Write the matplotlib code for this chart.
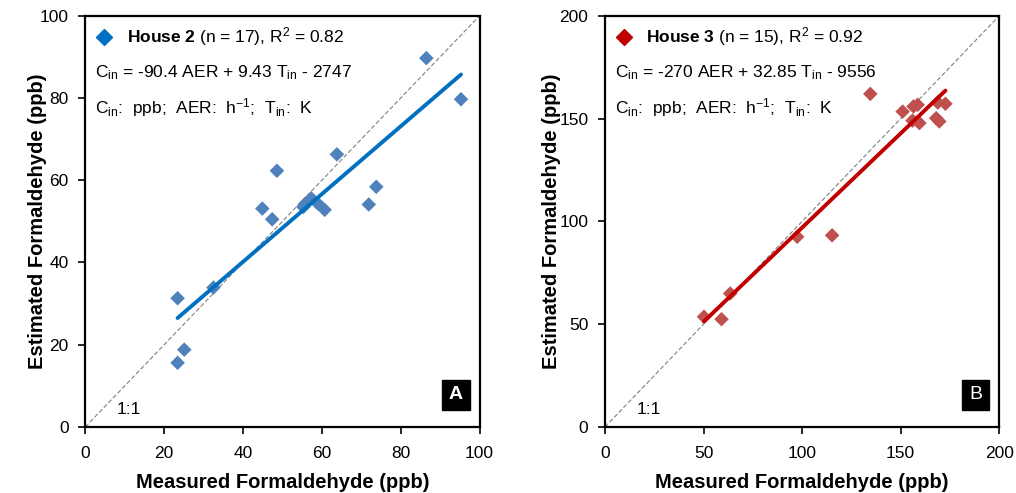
import numpy as np
import matplotlib
matplotlib.use("Agg")
import matplotlib.pyplot as plt
from matplotlib.lines import Line2D

plt.rcParams['font.family'] = ['Liberation Sans', 'DejaVu Sans']
plt.rcParams['mathtext.fontset'] = 'custom'
plt.rcParams['mathtext.rm'] = 'Liberation Sans'
plt.rcParams['mathtext.bf'] = 'Liberation Sans:bold'
plt.rcParams['mathtext.it'] = 'Liberation Sans:italic'

# House 2 (panel A)
h2_measured = [86.5, 95.3, 63.8, 48.6, 44.9, 47.4, 73.8, 71.9, 55.8, 57.3,
               58.9, 60.7, 55.3, 32.5, 23.4, 25.1, 23.4]
h2_estimated = [89.7, 79.7, 66.3, 62.3, 53.1, 50.5, 58.4, 54.1, 54.3, 55.6,
                54.4, 52.8, 53.5, 33.9, 31.3, 18.8, 15.6]

# House 3 (panel B)
h3_measured = [134.6, 151.0, 156.5, 158.6, 159.5, 168.8, 172.7, 168.0, 169.6,
               156.0, 97.5, 115.2, 63.5, 50.2, 59.1]
h3_estimated = [162.0, 153.4, 155.9, 156.7, 147.8, 157.8, 157.2, 150.2, 148.6,
                149.0, 92.5, 93.2, 64.9, 53.6, 52.4]

panels = [
    dict(x=h2_measured, y=h2_estimated, lim=100, ticks=[0, 20, 40, 60, 80, 100],
         pt='#4F81BD', line='#0070C0', mk='#0070C0',
         title=r"$\mathbf{House\ 2}$ (n = 17), R$^{2}$ = 0.82",
         eq=r"C$_{\mathrm{in}}$ = -90.4 AER + 9.43 T$_{\mathrm{in}}$ - 2747",
         tag='A', tagw='bold', left=0.084, ylab=-0.098),
    dict(x=h3_measured, y=h3_estimated, lim=200, ticks=[0, 50, 100, 150, 200],
         pt='#C0504D', line='#C00000', mk='#C00000',
         title=r"$\mathbf{House\ 3}$ (n = 15), R$^{2}$ = 0.92",
         eq=r"C$_{\mathrm{in}}$ = -270 AER + 32.85 T$_{\mathrm{in}}$ - 9556",
         tag='B', tagw='normal', left=0.5955, ylab=-0.112),
]
units = r"C$_{\mathrm{in}}$:  ppb;  AER:  h$^{-1}$;  T$_{\mathrm{in}}$:  K"

fig = plt.figure(figsize=(10.16, 4.93), dpi=100)

for p in panels:
    ax = fig.add_axes([p['left'], 0.134, 0.388, 0.834])
    lim = p['lim']
    ax.plot([0, lim], [0, lim], color='#808080', lw=0.8, ls=(0, (4, 2)), zorder=1)
    ax.scatter(p['x'], p['y'], marker='D', s=55, color=p['pt'], edgecolors='none', zorder=3)
    x = np.array(p['x'])
    y = np.array(p['y'])
    k, b = np.polyfit(x, y, 1)
    xs = np.array([x.min(), x.max()])
    ax.plot(xs, k * xs + b, color=p['line'], lw=2.8, zorder=4, solid_capstyle='round')

    ax.set_xlim(0, lim)
    ax.set_ylim(0, lim)
    ax.set_xticks(p['ticks'])
    ax.set_yticks(p['ticks'])
    ax.tick_params(direction='out', length=5, width=1.2, labelsize=12.5)
    ax.tick_params(axis='y', pad=7)
    ax.tick_params(axis='x', pad=9)
    for s in ax.spines.values():
        s.set_linewidth(1.6)

    ax.set_xlabel('Measured Formaldehyde (ppb)', fontsize=14.5, fontweight='bold', va='top')
    ax.set_ylabel('Estimated Formaldehyde (ppb)', fontsize=14.5, fontweight='bold')
    ax.xaxis.set_label_coords(0.5, -0.112)
    ax.yaxis.set_label_coords(p['ylab'], 0.5)

    ax.add_line(Line2D([0.047], [0.949], transform=ax.transAxes, marker='D', ms=8,
                       color=p['mk'], ls='none'))
    ax.text(0.105, 0.949, p['title'], transform=ax.transAxes, fontsize=12.5, va='center')
    ax.text(0.025, 0.862, p['eq'], transform=ax.transAxes, fontsize=12.5, va='center')
    ax.text(0.025, 0.776, units, transform=ax.transAxes, fontsize=12.5, va='center')
    ax.text(0.08, 0.043, '1:1', transform=ax.transAxes, fontsize=12.5, va='center')
    ax.text(0.94, 0.078, p['tag'], transform=ax.transAxes, fontsize=14, color='white',
            fontweight=p['tagw'], ha='center', va='center',
            bbox=dict(boxstyle='square,pad=0.35', fc='black', ec='black'))

fig.savefig('out.png', dpi=100)
